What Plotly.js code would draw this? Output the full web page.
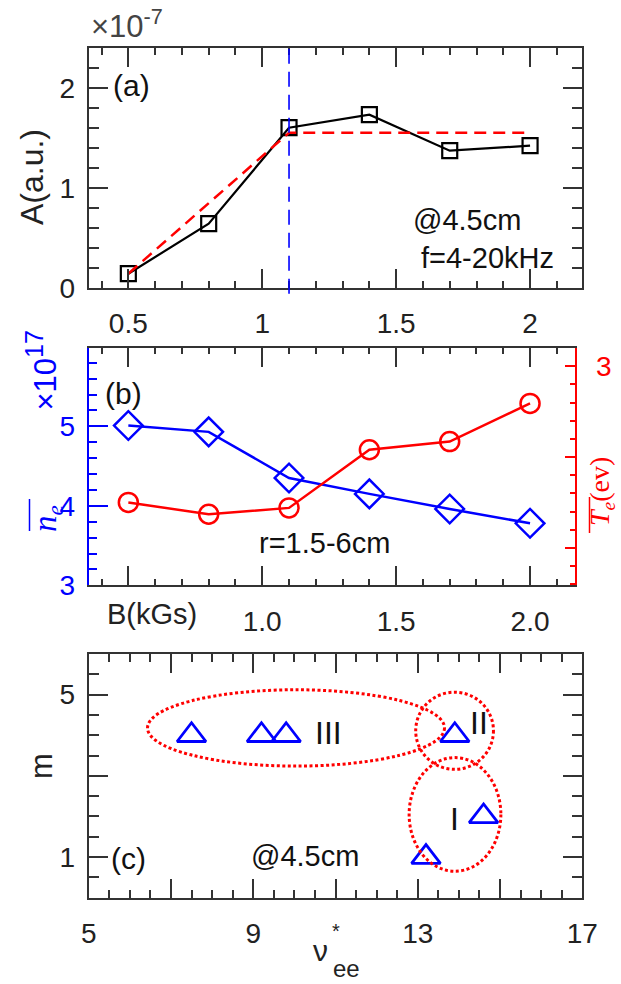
<!DOCTYPE html>
<html>
<head>
<meta charset="utf-8">
<script src="https://cdn.plot.ly/plotly-3.0.1.min.js"></script>
<style>html,body{margin:0;padding:0;background:#fff;}#chart{width:621px;height:984px;}</style>
</head>
<body>
<div id="chart"></div>
<script>
// ---------- data ----------
const B = [0.5, 0.8, 1.1, 1.4, 1.7, 2.0];          // magnetic field (kGs)
const A = [0.14, 0.64, 1.60, 1.73, 1.37, 1.42];     // amplitude (x1e-7 a.u.)
const fitB = [0.5, 1.1, 2.0];
const fitA = [0.14, 1.55, 1.55];
const critB = 1.1;
const ne = [5.01, 4.93, 4.35, 4.15, 3.96, 3.78];    // x1e17
const Te = [1.50, 1.37, 1.44, 2.08, 2.17, 2.59];    // eV
const nuee = [7.5, 9.2, 9.8, 13.9, 14.6, 13.2];
const mode = [4, 4, 4, 4, 2, 1];
const regionNames = ['III', 'II', 'I'];
const regionX0 = [6.43, 12.95, 12.79];
const regionX1 = [13.65, 14.84, 15.02];
const regionY0 = [3.24, 3.16, 0.65];
const regionY1 = [5.12, 5.06, 3.45];

const tickAx = [0.5, 1, 1.5, 2], tickAxText = ['0.5', '1', '1.5', '2'];
const tickAy = [0, 1, 2], tickAyText = ['0', '1', '2'];
const tickBx = [0.5, 1.0, 1.5, 2.0], tickBxText = ['', '1.0', '1.5', '2.0'];
const tickByL = [3, 4, 5], tickByLText = ['3', '4', '5'];
const tickByR = [1, 2, 3], tickByRText = ['', '', '3'];
const tickCx = [5, 7, 9, 11, 13, 15, 17], tickCxText = ['5', '', '9', '', '13', '', '17'];
const tickCy = [1, 3, 5], tickCyText = ['1', '', '5'];

// ---------- helpers ----------
const W = 621, H = 984;
const px = v => v / W;
const py = v => 1 - v / H;
const SANS = 'Liberation Sans, Arial, sans-serif';
const SERIF = 'Liberation Serif, Times New Roman, serif';
const BLUE = '#0000ff', RED = '#ff0000', AX = '#333333';

function axis(o) {
  return Object.assign({
    showgrid: false, zeroline: false, showline: true, linecolor: AX, linewidth: 2,
    ticks: 'inside', tickcolor: AX, tickwidth: 2, ticklen: 19, mirror: 'ticks',
    tickmode: 'array', fixedrange: true,
    tickfont: {family: SANS, size: 28, color: '#222'}
  }, o);
}
function minor(dt, len, col) {
  return {ticks: 'inside', ticklen: len, tickwidth: 2, tickcolor: col || AX, tick0: 0, dtick: dt, showgrid: false};
}
function ann(text, x, y, size, o) {
  return Object.assign({text: text, x: px(x), y: py(y), xref: 'paper', yref: 'paper',
    xanchor: 'center', yanchor: 'middle', showarrow: false,
    font: {family: SANS, size: size, color: '#111'}}, o || {});
}

// ---------- traces ----------
const traces = [
  {x: B, y: A, xaxis: 'x', yaxis: 'y', mode: 'lines+markers',
   line: {color: '#000', width: 2.2},
   marker: {symbol: 'square-open', size: 15, color: '#000', line: {width: 2.2, color: '#000'}}},
  {x: fitB, y: fitA, xaxis: 'x', yaxis: 'y', mode: 'lines',
   line: {color: RED, width: 2.5, dash: '12px,7px'}},
  {x: B, y: Te, xaxis: 'x2', yaxis: 'y3', mode: 'lines+markers',
   line: {color: RED, width: 2.5},
   marker: {symbol: 'circle-open', size: 19, color: RED, line: {width: 2.5, color: RED}}},
  {x: B, y: ne, xaxis: 'x2', yaxis: 'y2', mode: 'lines+markers',
   line: {color: BLUE, width: 2.5},
   marker: {symbol: 'diamond-open', size: 22, color: BLUE, line: {width: 2.5, color: BLUE}}},
  {x: nuee, y: mode, xaxis: 'x3', yaxis: 'y4', mode: 'markers',
   marker: {symbol: 'triangle-up-open', size: 25, color: BLUE, line: {width: 2.8, color: BLUE}}}
].map(t => Object.assign({showlegend: false, hoverinfo: 'skip', cliponaxis: false}, t));

// ---------- shapes ----------
const shapes = [
  {type: 'line', xref: 'x', yref: 'y domain', x0: critB, x1: critB, y0: -0.025, y1: 1,
   line: {color: BLUE, width: 1.6, dash: '15px,8px'}},
  // overlines of the math labels
  {type: 'line', xref: 'paper', yref: 'paper', x0: px(29.5), x1: px(29.5), y0: py(499), y1: py(531),
   line: {color: BLUE, width: 1.5}},
  {type: 'line', xref: 'paper', yref: 'paper', x0: px(589.5), x1: px(589.5), y0: py(497), y1: py(533),
   line: {color: RED, width: 1.5}}
];
for (let i = 0; i < regionNames.length; i++) {
  shapes.push({type: 'circle', xref: 'x3', yref: 'y4',
    x0: regionX0[i], x1: regionX1[i], y0: regionY0[i], y1: regionY1[i],
    line: {color: RED, width: 3, dash: '3px,2.5px'}});
}

// ---------- annotations ----------
const GAP = '\u00A0'.repeat(11);
const neLabel = '<span style="font-family:Liberation Serif;font-size:33px"><i>n</i><sub><i>e</i></sub></span>' +
  GAP + '×10<sup><span style="font-size:25px">17</span></sup>';
const annotations = [
  ann('×10<sup>-7</sup>', 127, 24, 31, {font: {family: SANS, size: 31, color: '#444'}}),
  ann('A(a.u.)', 32, 177, 32, {textangle: -90, font: {family: SANS, size: 32, color: '#222'}}),
  ann('(a)', 131, 85, 30),
  ann('@4.5cm', 467, 220, 29),
  ann('f=4-20kHz', 487, 258, 29),
  ann('(b)', 123.5, 393, 30),
  ann('r=1.5-6cm', 324.5, 543, 29),
  ann('B(kGs)', 151.5, 614, 29, {font: {family: SANS, size: 29, color: '#222'}}),
  ann(neLabel, 44, 534, 31, {textangle: -90, yanchor: 'bottom', font: {family: SANS, size: 31, color: BLUE}}),
  ann('<i>T</i><sub><i>e</i></sub>(ev)', 601, 492, 28, {textangle: -90, font: {family: SERIF, size: 28, color: RED}}),
  ann(regionNames[0], 328, 733, 32),
  ann(regionNames[1], 479, 723, 32),
  ann(regionNames[2], 454, 819, 32),
  ann('(c)', 128.5, 858, 30),
  ann('@4.5cm', 304.5, 856, 29),
  ann('ν', 320, 950, 30, {font: {family: SANS, size: 30, color: '#222'}}),
  ann('*', 336, 931, 20, {font: {family: SANS, size: 20, color: '#222'}}),
  ann('ee', 346, 968, 24, {font: {family: SANS, size: 24, color: '#222'}}),
  ann('m', 41, 766, 31, {textangle: -90, font: {family: SANS, size: 31, color: '#222'}})
];

// ---------- layout ----------
const dA = [px(88.7), px(582.3)], dB = [px(88.7), px(574.5)], dC = [px(88.7), px(582.3)];
const layout = {
  width: W, height: H, margin: {l: 0, r: 0, t: 0, b: 0},
  paper_bgcolor: '#fff', plot_bgcolor: 'rgba(0,0,0,0)', showlegend: false,
  xaxis: axis({domain: dA, anchor: 'y', range: [0.352, 2.195], tickvals: tickAx, ticktext: tickAxText,
    minor: minor(0.1, 7), ticklabelstandoff: 10}),
  yaxis: axis({domain: [py(287.7), py(47.7)], anchor: 'x', range: [0, 2.4], tickvals: tickAy, ticktext: tickAyText,
    minor: minor(0.2, 10), ticklabelstandoff: 6}),
  xaxis2: axis({domain: dB, anchor: 'y2', range: [0.352, 2.166], tickvals: tickBx, ticktext: tickBxText,
    minor: minor(0.1, 6), ticklabelstandoff: 10}),
  yaxis2: axis({domain: [py(585.3), py(348)], anchor: 'x2', range: [3, 5.985], tickvals: tickByL, ticktext: tickByLText,
    mirror: false, linecolor: BLUE, tickcolor: BLUE, tickfont: {family: SANS, size: 28, color: BLUE},
    minor: minor(0.2, 8, BLUE), ticklabelstandoff: 6}),
  yaxis3: axis({overlaying: 'y2', anchor: 'x2', side: 'right', range: [0.588, 3.2], tickvals: tickByR, ticktext: tickByRText,
    mirror: false, linecolor: RED, tickcolor: RED, ticklen: 10, tickfont: {family: SANS, size: 28, color: RED},
    minor: minor(0.2, 5, RED), ticklabelstandoff: 14}),
  xaxis3: axis({domain: dC, anchor: 'y4', range: [5, 17], tickvals: tickCx, ticktext: tickCxText,
    minor: minor(0.5, 8), ticklabelstandoff: 10}),
  yaxis4: axis({domain: [py(897.7), py(654)], anchor: 'x3', range: [0, 6], tickvals: tickCy, ticktext: tickCyText,
    minor: minor(0.5, 10), ticklabelstandoff: 6}),
  shapes: shapes,
  annotations: annotations
};

Plotly.newPlot('chart', traces, layout, {staticPlot: true, displayModeBar: false});
</script>
</body>
</html>
